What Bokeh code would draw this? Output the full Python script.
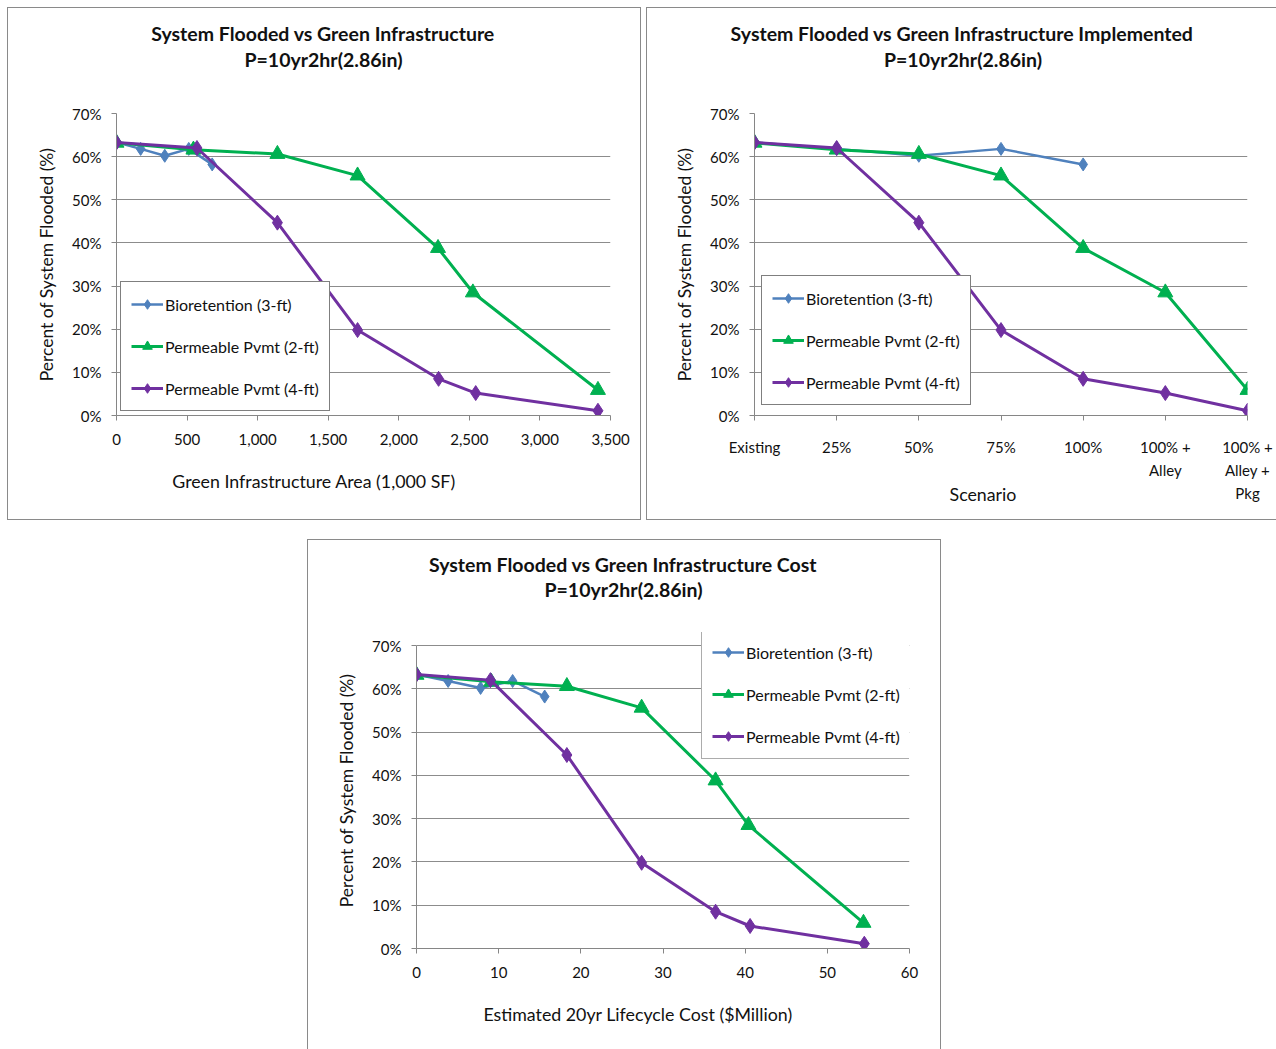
from bokeh.plotting import figure
from bokeh.models import (Range1d, Legend, LegendItem, Label, PrintfTickFormatter,
                          NumeralTickFormatter, FixedTicker)
from bokeh.layouts import column, row
from bokeh.embed import file_html
from bokeh.resources import INLINE

# ---------------- data ----------------
series_names = ["Bioretention (3-ft)", "Permeable Pvmt (2-ft)", "Permeable Pvmt (4-ft)"]

bio_pct = [63.3, 61.8, 60.2, 61.8, 58.2]
pp2_pct = [63.2, 61.6, 60.6, 55.6, 38.8, 28.5, 5.9]
pp4_pct = [63.3, 62.0, 44.7, 19.8, 8.5, 5.2, 1.1]

bio_area = [0, 171, 342, 512, 678]
pp2_area = [0, 545, 1140, 1708, 2278, 2525, 3411]
pp4_area = [0, 570, 1140, 1708, 2282, 2545, 3411]

scenarios = ["Existing", "25%", "50%", "75%", "100%", "100% +\nAlley", "100% +\nAlley +\nPkg"]

bio_cost = [0, 3.85, 7.8, 11.7, 15.6]
pp2_cost = [0, 9.1, 18.3, 27.4, 36.4, 40.4, 54.4]
pp4_cost = [0, 9.0, 18.3, 27.4, 36.4, 40.6, 54.5]

y_ticks = [0, 10, 20, 30, 40, 50, 60, 70]
area_ticks = [0, 500, 1000, 1500, 2000, 2500, 3000, 3500]
cost_ticks = [0, 10, 20, 30, 40, 50, 60]

subtitle = "P=10yr2hr(2.86in)"

BLUE = "#4F81BD"
GREEN = "#00B050"
PURPLE = "#7030A0"
FONT = "Lato"
AX = "#868686"
TXT = "#111111"


def side_label(p, side, text, x, y, size, style="normal"):
    p.add_layout(Label(x=x, y=y, x_units="screen", y_units="screen", text=text,
                       text_font=FONT, text_font_size=size, text_font_style=style,
                       text_color=TXT, text_align="center", text_baseline="middle"), side)


def make_fig(width, height, mbl, mbr, mbt, mbb, x_range, y_top=70):
    p = figure(width=width, height=height, output_backend="svg", toolbar_location=None,
               x_range=x_range, y_range=Range1d(0, y_top),
               min_border_left=mbl, min_border_right=mbr,
               min_border_top=mbt, min_border_bottom=mbb)
    p.styles = {"outline": "1px solid #8a8a8a"}
    p.outline_line_color = None
    p.background_fill_color = "white"
    p.border_fill_color = "white"
    p.xgrid.visible = False
    p.ygrid.grid_line_color = "#8c8c8c"
    p.ygrid.grid_line_width = 1

    for ax in (p.xaxis[0], p.yaxis[0]):
        ax.axis_line_color = AX
        ax.major_tick_line_color = AX
        ax.major_tick_out = 5
        ax.major_tick_in = 0
        ax.minor_tick_line_color = None
        ax.major_label_text_font = FONT
        ax.major_label_text_font_size = "15px"
        ax.major_label_text_color = TXT
        ax.axis_label_text_font = FONT
        ax.axis_label_text_font_style = "normal"
        ax.axis_label_text_font_size = "17.5px"
        ax.axis_label_text_color = TXT

    p.yaxis.ticker = FixedTicker(ticks=y_ticks)
    p.yaxis.bounds = (0, 70)
    p.yaxis.formatter = PrintfTickFormatter(format="%d%%")
    p.yaxis.axis_label = "Percent of System Flooded (%)"
    p.yaxis.major_label_standoff = 10
    p.yaxis.axis_label_standoff = 12
    p.xaxis.major_label_standoff = 13
    return p


def add_series(p, xb, xg, xp, loc, border):
    lb = p.line(xb, bio_pct, line_color=BLUE, line_width=2.5)
    sb = p.scatter(xb, bio_pct, marker="diamond", size=13, fill_color=BLUE, line_color=BLUE)
    lg = p.line(xg, pp2_pct, line_color=GREEN, line_width=3)
    sg = p.scatter(xg, pp2_pct, marker="triangle", size=15, fill_color=GREEN, line_color=GREEN)
    lp = p.line(xp, pp4_pct, line_color=PURPLE, line_width=3)
    sp = p.scatter(xp, pp4_pct, marker="diamond", size=15, fill_color=PURPLE, line_color=PURPLE)
    items = [LegendItem(label=series_names[0], renderers=[lb, sb]),
             LegendItem(label=series_names[1], renderers=[lg, sg]),
             LegendItem(label=series_names[2], renderers=[lp, sp])]
    leg = Legend(items=items, location=loc, border_line_color=border, border_line_width=1,
                 background_fill_color="white", background_fill_alpha=1.0,
                 label_text_font=FONT, label_text_font_size="16px", label_text_color=TXT,
                 glyph_width=32, glyph_height=24, label_height=24, spacing=18,
                 padding=10, label_standoff=2, margin=0)
    p.add_layout(leg)


# ---------- top-left: area ----------
p1 = make_fig(632, 511, 108, 30, 105, 104, Range1d(0, 3500))
p1.xaxis.ticker = FixedTicker(ticks=area_ticks)
p1.xaxis.formatter = NumeralTickFormatter(format="0,0")
add_series(p1, bio_area, pp2_area, pp4_area, (4, 4), "black")
side_label(p1, "above", subtitle, 207, 54, "19.5px", "bold")
side_label(p1, "above", "System Flooded vs Green Infrastructure", 206.5, 57, "19.5px", "bold")
side_label(p1, "below", "Green Infrastructure Area (1,000 SF)", 197.5, -11, "17.8px")

# ---------- top-right: scenario ----------
sx = list(range(len(scenarios)))
p2 = make_fig(629, 511, 107, 29, 105, 104, Range1d(0, len(scenarios) - 1))
p2.xaxis.ticker = FixedTicker(ticks=sx)
p2.xaxis.major_label_overrides = {i: s for i, s in zip(sx, scenarios)}
p2.xaxis.major_label_standoff = 17
p2.xaxis.major_label_text_line_height = 1.3
add_series(p2, sx[:len(bio_pct)], sx, sx, (7, 10), "black")
side_label(p2, "above", subtitle, 208.5, 54, "19.5px", "bold")
side_label(p2, "above", "System Flooded vs Green Infrastructure Implemented", 207.5, 57, "19.5px", "bold")
# axis title placed from the outer "above" slot so it does not enlarge the bottom border
side_label(p2, "above", "Scenario", 228.5, -426, "17.8px")

# ---------- bottom: cost ----------
# frame extends 13px above the 70% line so the legend box can sit there
p3 = make_fig(632, 509, 108, 31, 92, 101, Range1d(0, 60), y_top=70 * 316 / 303)
p3.xaxis.ticker = FixedTicker(ticks=cost_ticks)
p3.xaxis.formatter = PrintfTickFormatter(format="%d")
add_series(p3, bio_cost, pp2_cost, pp4_cost, (285, 189), "#595959")
side_label(p3, "above", subtitle, 207, 43, "19.5px", "bold")
side_label(p3, "above", "System Flooded vs Green Infrastructure Cost", 206.5, 45, "19.5px", "bold")
side_label(p3, "below", "Estimated 20yr Lifecycle Cost ($Million)", 221.5, -11, "17.8px")

top = row(p1, p2, spacing=7)
top.margin = (8, 0, 0, 8)
p3.margin = (0, 0, 0, 308)
layout = column(top, p3, spacing=21)

open("out.html", "w").write(file_html(layout, INLINE))
